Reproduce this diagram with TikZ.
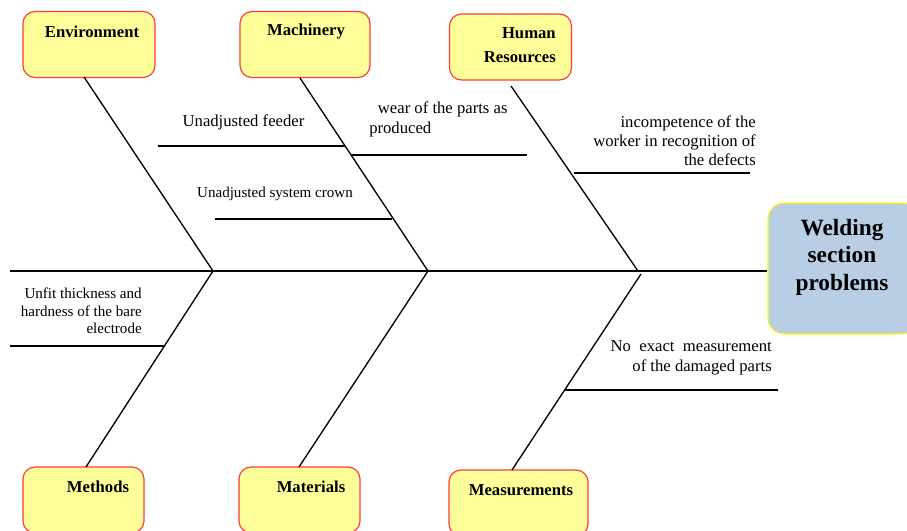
\documentclass[tikz,border=0pt]{standalone}
\usepackage{fontspec}
\setmainfont{Liberation Serif}
\definecolor{causefill}{HTML}{FFFF99}
\definecolor{causeline}{HTML}{FF3B3B}
\definecolor{effectfill}{HTML}{B9CDE4}
\definecolor{effectline}{HTML}{FFFF00}
\tikzset{
  causebox/.style={rectangle, rounded corners=9pt, draw=causeline, fill=causefill,
    line width=0.9pt, minimum height=49.5pt, inner sep=0},
  causetitle/.style={font=\fontsize{12.5}{14}\selectfont\bfseries, inner sep=0},
  note/.style={font=\fontsize{12.5}{14.3}\selectfont, inner sep=0},
  bone/.style={draw=black, line width=1pt},
}
\begin{document}
\begin{tikzpicture}[x=0.75pt, y=-0.75pt]
  \useasboundingbox (0,0) rectangle (907,531);

  % head
  \node[rectangle, rounded corners=12pt, draw=effectline, fill=effectfill,
    line width=0.8pt,
    minimum width=112.5pt,
    minimum height=98.25pt] (weld) at (843,268.5) {};
  \node[font=\fontsize{17.5}{20.6}\selectfont\bfseries, align=center, inner sep=0] (weldtitle) at (842,257) {Welding\\section\\problems};

  \node[causebox, minimum width=99pt] (env) at (89,44.5) {};
  \node[causebox, minimum width=97.5pt] (mach) at (305,44.5) {};
  \node[causebox, minimum width=91.5pt] (hum) at (510.5,47) {};
  \node[causebox, minimum width=90.75pt] (meth) at (83.5,500) {};
  \node[causebox, minimum width=90.75pt] (mat) at (299.5,500) {};
  \node[causebox, minimum width=104.25pt] (meas) at (518.5,503) {};

  \node[causetitle] (envtitle) at (92,32) {Environment};
  \node[causetitle] (machtitle) at (306,32) {Machinery};
  \node[causetitle, align=right, anchor=east, font=\fontsize{12.5}{18}\selectfont\bfseries] (humtitle) at (556,45) {Human\\Resources};
  \node[causetitle] (methtitle) at (98,487) {Methods};
  \node[causetitle] (mattitle) at (311,487) {Materials};
  \node[causetitle] (meastitle) at (521,490) {Measurements};

  % spine
  \coordinate (tail) at (10,271);
  \coordinate (envroot) at (213,271);
  \coordinate (machroot) at (428,271);
  \coordinate (humroot) at (638,271);
  \coordinate (measroot) at (641,274);
  \draw[bone] (tail) -- (tail -| weld.west);

  % bones
  \coordinate (envtop) at (84,77);
  \coordinate (machtop) at (300,78);
  \coordinate (humtop) at (511,86);
  \coordinate (methfoot) at (86,467);
  \coordinate (matfoot) at (299,467);
  \coordinate (measfoot) at (512,470);
  \draw[bone] (envtop) -- (envroot);
  \draw[bone] (machtop) -- (machroot);
  \draw[bone] (humtop) -- (humroot);
  \draw[bone] (envroot) -- (methfoot);
  \draw[bone] (machroot) -- (matfoot);
  \draw[bone] (measroot) -- (measfoot);

  % causes
  \node[note] (feeder) at (243.5,122) {Unadjusted feeder};
  \coordinate (feederL) at (158,146);
  \coordinate (feederR) at (345,146);
  \draw[bone] (feederL) -- (feederR);

  \node[note, align=left, anchor=north west, font=\fontsize{12.5}{15}\selectfont] (wear) at (369,101) {\hspace*{6.5pt}wear of the parts as\\produced};
  \coordinate (wearL) at (351,155);
  \coordinate (wearR) at (527,155);
  \draw[bone] (wearL) -- (wearR);

  \node[note, font=\fontsize{11.3}{13}\selectfont] (crown) at (275,194) {Unadjusted system crown};
  \coordinate (crownL) at (215,219);
  \coordinate (crownR) at (392,219);
  \draw[bone] (crownL) -- (crownR);

  \node[note, align=right, anchor=east, font=\fontsize{12.5}{14.25}\selectfont] (incomp) at (756,141) {incompetence of the\\worker in recognition of\\the defects};
  \coordinate (incompL) at (574,173);
  \coordinate (incompR) at (750,173);
  \draw[bone] (incompL) -- (incompR);

  \node[note, align=right, anchor=east, font=\fontsize{11.3}{13.1}\selectfont] (unfit) at (142,311) {Unfit thickness and\\hardness of the bare\\electrode};
  \coordinate (unfitL) at (10,346);
  \coordinate (unfitR) at (164,346);
  \draw[bone] (unfitL) -- (unfitR);

  \node[note, align=right, anchor=east, font=\fontsize{12.5}{15}\selectfont] (noexact) at (772,358) {No\ \ exact\ \ measurement\\of the damaged parts};
  \coordinate (noexactL) at (565,390);
  \coordinate (noexactR) at (778,390);
  \draw[bone] (noexactL) -- (noexactR);
\end{tikzpicture}
\end{document}
